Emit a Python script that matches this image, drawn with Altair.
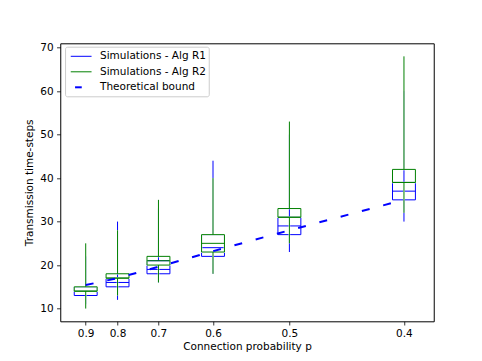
import altair as alt
import pandas as pd

# ---- data ----
p_values = [0.9, 0.8, 0.7, 0.6, 0.5, 0.4]

r1_lo = [11, 12, 16, 18, 23, 30]
r1_q1 = [13, 15, 18, 22, 27, 35]
r1_med = [14, 16, 19, 24, 29, 37]
r1_q3 = [15, 17, 21, 27, 31, 39]
r1_hi = [22, 30, 33, 44, 50, 60]

r2_lo = [10, 13, 16, 18, 25, 32]
r2_q1 = [14, 17, 20, 23, 31, 39]
r2_med = [14, 17, 21, 25, 31, 39]
r2_q3 = [15, 18, 22, 27, 33, 42]
r2_hi = [25, 28, 35, 40, 53, 68]

bound = [15.4, 17.0, 19.6, 23.2, 28.0, 35.0]

legend_labels = ["Simulations - Alg R1", "Simulations - Alg R2", "Theoretical bound"]

BLUE = "#0000ff"
GREEN = "#008000"
FONT = "DejaVu Sans"
FS = 10.5

positions = [1.0 / p for p in p_values]


def box_df(lo, q1, med, q3, hi):
    return pd.DataFrame({"pos": positions, "lo": lo, "q1": q1, "med": med, "q3": q3, "hi": hi})


df1 = box_df(r1_lo, r1_q1, r1_med, r1_q3, r1_hi)
df2 = box_df(r2_lo, r2_q1, r2_med, r2_q3, r2_hi)
dfb = pd.DataFrame({"pos": positions, "bound": bound})

xscale = alt.Scale(domain=[1.0, 2.63], nice=False, zero=False)
yscale = alt.Scale(domain=[7.07, 71.0], nice=False, zero=False)

xaxis = alt.Axis(
    values=positions, labelExpr="format(1/datum.value, '.1f')",
    title="Connection probability p", grid=False, domain=False,
    tickSize=3.7, tickColor="black", tickWidth=0.8,
    labelFont=FONT, labelFontSize=FS, labelColor="black", labelPadding=3.5,
    titleFont=FONT, titleFontSize=FS, titleFontWeight="normal", titleColor="black",
    titlePadding=3,
)
yaxis = alt.Axis(
    values=[10, 20, 30, 40, 50, 60, 70], title="Transmission time-steps",
    grid=False, domain=False, tickSize=3.7, tickColor="black", tickWidth=0.8,
    labelFont=FONT, labelFontSize=FS, labelColor="black", labelPadding=3.5,
    titleFont=FONT, titleFontSize=FS, titleFontWeight="normal", titleColor="black",
    titlePadding=5,
)


def X(field):
    return alt.X(field, type="quantitative", scale=xscale, axis=xaxis)


def Y(field):
    return alt.Y(field, type="quantitative", scale=yscale, axis=yaxis)


def box_layers(df, color, width=1.0):
    base = alt.Chart(df).transform_calculate(
        xl="datum.pos - 0.05", xr="datum.pos + 0.05"
    )
    w_lo = base.mark_rule(color=color, strokeWidth=width).encode(x=X("pos"), y=Y("lo"), y2="q1")
    w_hi = base.mark_rule(color=color, strokeWidth=width).encode(x=X("pos"), y=Y("q3"), y2="hi")
    box = base.mark_rect(filled=False, stroke=color, strokeWidth=width).encode(
        x=X("xl"), x2="xr", y=Y("q1"), y2="q3"
    )
    med = base.mark_rule(color=color, strokeWidth=width).encode(x=X("xl"), x2="xr", y=Y("med"))
    return [w_lo, w_hi, box, med]


def halo_layers(df):
    base = alt.Chart(df).transform_calculate(
        xl="datum.pos - 0.05", xr="datum.pos + 0.05"
    )
    w_lo = base.mark_rule(color="white", strokeWidth=1.6).encode(x=X("pos"), y=Y("lo"), y2="q1")
    w_hi = base.mark_rule(color="white", strokeWidth=1.6).encode(x=X("pos"), y=Y("q3"), y2="hi")
    box = base.mark_rect(filled=False, stroke="white", strokeWidth=1.6).encode(
        x=X("xl"), x2="xr", y=Y("q1"), y2="q3"
    )
    return [w_lo, w_hi, box]


bound_line = alt.Chart(dfb).mark_line(
    color=BLUE, strokeWidth=2, strokeDash=[8, 14]
).encode(x=X("pos"), y=Y("bound"))

# ---- legend (drawn as marks) ----
one = pd.DataFrame({"k": [0]})
leg = []
leg.append(alt.Chart(one).mark_rect(
    fill="white", fillOpacity=0.8, stroke="#cccccc", strokeWidth=1, cornerRadius=2
).encode(x=alt.value(5.3), x2=alt.value(149), y=alt.value(3.9), y2=alt.value(53.5)))
row_y = [13.0, 28.5, 44.0]
handle_colors = [BLUE, GREEN]
for i, lab in enumerate(legend_labels):
    if i < 2:
        leg.append(alt.Chart(one).mark_rule(color=handle_colors[i], strokeWidth=1).encode(
            x=alt.value(10.5), x2=alt.value(31.3), y=alt.value(row_y[i])))
    else:
        leg.append(alt.Chart(one).mark_rule(color=BLUE, strokeWidth=2).encode(
            x=alt.value(14.8), x2=alt.value(21.5), y=alt.value(row_y[i])))
    leg.append(alt.Chart(pd.DataFrame({"label": [lab]})).mark_text(
        align="left", baseline="middle", font=FONT, fontSize=FS, color="black"
    ).encode(x=alt.value(39.8), y=alt.value(row_y[i]), text="label:N"))

layers = box_layers(df1, BLUE) + halo_layers(df2) + box_layers(df2, GREEN) + [bound_line] + leg

chart = alt.layer(*layers).properties(
    width=373.5, height=278,
    autosize=alt.AutoSizeParams(type="none"),
    padding={"left": 52.25, "top": 35.3, "right": 40, "bottom": 40},
).configure_view(stroke="black", strokeWidth=1)

chart.save("out.html", embed_options={"renderer": "svg", "actions": False})
